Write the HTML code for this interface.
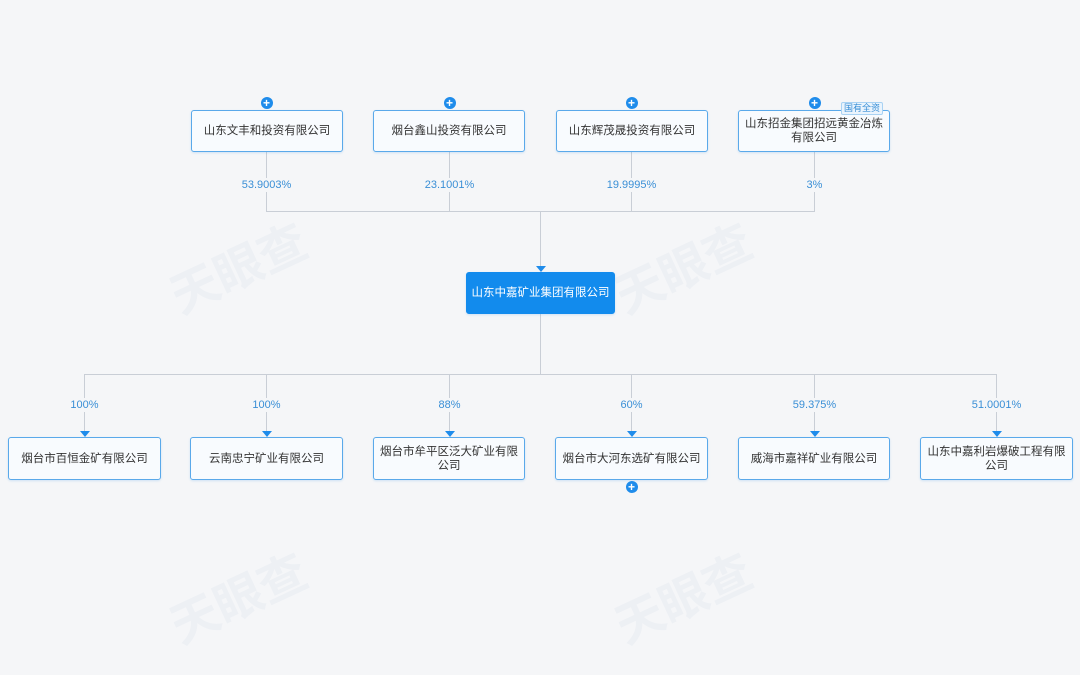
<!DOCTYPE html>
<html><head><meta charset="utf-8"><style>
body{margin:0;width:1080px;height:675px;background:#f5f6f8;position:relative;overflow:hidden;font-family:"Liberation Sans","Noto Sans CJK SC",sans-serif;}
.b{position:absolute;box-sizing:border-box;border:1px solid #5aa9ea;border-radius:3px;background:#f8fbfe;color:#333;font-size:11.5px;line-height:14px;display:flex;align-items:center;justify-content:center;text-align:center;padding:0 6px;box-shadow:0 1px 2px rgba(90,169,234,0.25);}
.l{position:absolute;background:#c9ced6;}
.p{position:absolute;font-size:11px;color:#3a8fd6;background:#f5f6f8;transform:translateX(-50%);line-height:14px;padding:0 2px;}
.a{position:absolute;width:0;height:0;border-left:5px solid transparent;border-right:5px solid transparent;border-top:6px solid #1f8ceb;transform:translateX(-50%);}
.c{position:absolute;width:12px;height:12px;border-radius:50%;background:#1f8ceb;color:#fff;font-size:12px;line-height:12px;text-align:center;font-weight:bold;transform:translateX(-50%);}
.w{position:absolute;color:rgba(180,200,220,0.12);font-size:48px;font-weight:bold;transform:rotate(-25deg);}
</style></head><body>
<div class="w" style="left:165px;top:230px">天眼查</div>
<div class="w" style="left:610px;top:230px">天眼查</div>
<div class="w" style="left:165px;top:560px">天眼查</div>
<div class="w" style="left:610px;top:560px">天眼查</div>
<div class="l" style="left:266px;top:151px;width:1px;height:61px"></div>
<div class="l" style="left:449px;top:151px;width:1px;height:61px"></div>
<div class="l" style="left:631px;top:151px;width:1px;height:61px"></div>
<div class="l" style="left:814px;top:151px;width:1px;height:61px"></div>
<div class="l" style="left:266px;top:211px;width:549px;height:1px"></div>
<div class="l" style="left:540px;top:211px;width:1px;height:60px"></div>
<div class="a" style="left:540.5px;top:266px"></div>
<div class="l" style="left:540px;top:314px;width:1px;height:60px"></div>
<div class="l" style="left:84px;top:374px;width:913px;height:1px"></div>
<div class="l" style="left:84px;top:374px;width:1px;height:58px"></div>
<div class="l" style="left:266px;top:374px;width:1px;height:58px"></div>
<div class="l" style="left:449px;top:374px;width:1px;height:58px"></div>
<div class="l" style="left:631px;top:374px;width:1px;height:58px"></div>
<div class="l" style="left:814px;top:374px;width:1px;height:58px"></div>
<div class="l" style="left:996px;top:374px;width:1px;height:58px"></div>
<div class="a" style="left:84.5px;top:431px"></div>
<div class="a" style="left:266.5px;top:431px"></div>
<div class="a" style="left:449.5px;top:431px"></div>
<div class="a" style="left:631.5px;top:431px"></div>
<div class="a" style="left:814.5px;top:431px"></div>
<div class="a" style="left:996.5px;top:431px"></div>
<div class="b" style="left:191px;top:110px;width:152px;height:42px">山东文丰和投资有限公司</div>
<div class="b" style="left:373px;top:110px;width:152px;height:42px">烟台鑫山投资有限公司</div>
<div class="b" style="left:556px;top:110px;width:152px;height:42px">山东辉茂晟投资有限公司</div>
<div class="b" style="left:738px;top:110px;width:152px;height:42px">山东招金集团招远黄金冶炼<br>有限公司</div>
<div style="position:absolute;left:841px;top:102px;font-size:9px;line-height:11px;color:#3a8fd6;background:#eaf4fd;border:1px solid #a9d2f3;padding:0 2px;border-radius:2px">国有全资</div>
<div class="c" style="left:266.5px;top:97px">+</div>
<div class="c" style="left:449.5px;top:97px">+</div>
<div class="c" style="left:631.5px;top:97px">+</div>
<div class="c" style="left:814.5px;top:97px">+</div>
<div class="p" style="left:266.5px;top:178px">53.9003%</div>
<div class="p" style="left:449.5px;top:178px">23.1001%</div>
<div class="p" style="left:631.5px;top:178px">19.9995%</div>
<div class="p" style="left:814.5px;top:178px">3%</div>
<div class="b" style="left:466px;top:272px;width:149px;height:42px;background:#128bed;border-color:#128bed;color:#fff;white-space:nowrap;padding:0">山东中嘉矿业集团有限公司</div>
<div class="p" style="left:84.5px;top:398px">100%</div>
<div class="p" style="left:266.5px;top:398px">100%</div>
<div class="p" style="left:449.5px;top:398px">88%</div>
<div class="p" style="left:631.5px;top:398px">60%</div>
<div class="p" style="left:814.5px;top:398px">59.375%</div>
<div class="p" style="left:996.5px;top:398px">51.0001%</div>
<div class="b" style="left:8px;top:437px;width:153px;height:43px">烟台市百恒金矿有限公司</div>
<div class="b" style="left:190px;top:437px;width:153px;height:43px">云南忠宁矿业有限公司</div>
<div class="b" style="left:373px;top:437px;width:152px;height:43px">烟台市牟平区泛大矿业有限<br>公司</div>
<div class="b" style="left:555px;top:437px;width:153px;height:43px">烟台市大河东选矿有限公司</div>
<div class="b" style="left:738px;top:437px;width:152px;height:43px">威海市嘉祥矿业有限公司</div>
<div class="b" style="left:920px;top:437px;width:153px;height:43px">山东中嘉利岩爆破工程有限<br>公司</div>
<div class="c" style="left:631.5px;top:481px">+</div>
</body></html>
